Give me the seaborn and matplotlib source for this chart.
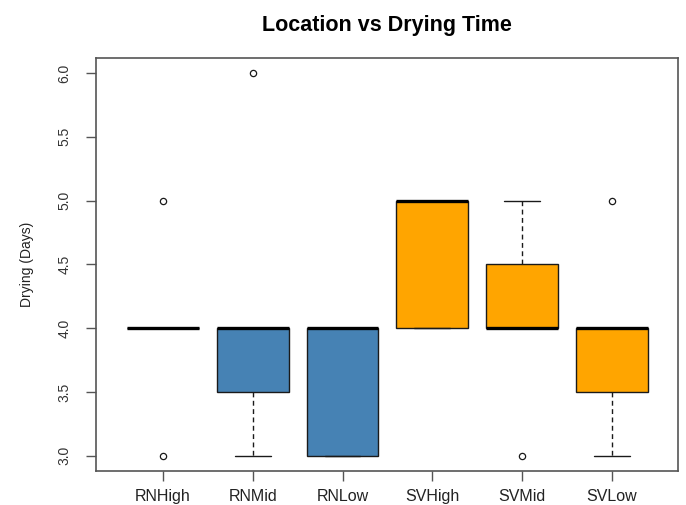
import matplotlib
matplotlib.use("Agg")
import matplotlib.pyplot as plt
import seaborn as sns
import pandas as pd

# ---- data (raw drying times, days) ----
locations = ["RNHigh", "RNMid", "RNLow", "SVHigh", "SVMid", "SVLow"]
rn_high = [3, 4, 4, 4, 4, 4, 5]
rn_mid = [3, 3, 4, 4, 4, 4, 6]
rn_low = [3, 3, 3, 4, 4, 4, 4]
sv_high = [4, 4, 4, 5, 5, 5, 5]
sv_mid = [3, 4, 4, 4, 4, 5, 5]
sv_low = [3, 3, 4, 4, 4, 4, 5]
box_colors = ["steelblue", "steelblue", "steelblue", "orange", "orange", "orange"]
y_ticks = [3.0, 3.5, 4.0, 4.5, 5.0, 5.5, 6.0]
y_tick_labels = ["3.0", "3.5", "4.0", "4.5", "5.0", "5.5", "6.0"]

series = [rn_high, rn_mid, rn_low, sv_high, sv_mid, sv_low]
rows = []
for loc, vals in zip(locations, series):
    for v in vals:
        rows.append({"Location": loc, "Days": v})
df = pd.DataFrame(rows)

sns.set_theme(style="white")
plt.rcParams["font.family"] = ["Liberation Sans", "DejaVu Sans"]

fig = plt.figure(figsize=(6.86, 5.05), dpi=100)
ax = fig.add_axes([0.1405, 0.0673, 0.989 - 0.1405, 0.8857 - 0.0673])

edge = "#1a1a1a"
sns.boxplot(
    data=df, x="Location", y="Days", hue="Location", order=locations,
    hue_order=locations, palette=dict(zip(locations, box_colors)),
    legend=False, width=0.8, whis=1.5, linecolor=edge, linewidth=1.0,
    saturation=1, ax=ax,
    medianprops=dict(color="black", linewidth=2.4, solid_capstyle="butt"),
    whiskerprops=dict(color=edge, linestyle=(0, (3.5, 2.5)), linewidth=1.0),
    capprops=dict(color=edge, linewidth=1.0),
    boxprops=dict(edgecolor=edge, linewidth=1.0),
    flierprops=dict(marker="o", markerfacecolor="none", markeredgecolor=edge,
                    markersize=4.5, markeredgewidth=0.9),
)

ax.set_xlim(-0.74, 5.74)
ax.set_ylim(2.88, 6.12)
ax.set_yticks(y_ticks)
ax.set_yticklabels(y_tick_labels)
ax.set_xlabel("")
ax.set_ylabel("Drying (Days)", fontsize=10, color="#222222")
ax.yaxis.set_label_coords(-0.108, 0.5)

for s in ax.spines.values():
    s.set_visible(True)
    s.set_color("#555555")
    s.set_linewidth(1.2)

ax.tick_params(axis="both", which="major", direction="out", length=7,
               width=1.0, color="#555555", left=True, bottom=True)
ax.tick_params(axis="y", labelsize=10, pad=11, labelcolor="#333333")
ax.tick_params(axis="x", labelsize=11.5, pad=6, labelcolor="#222222")
for lab in ax.get_yticklabels():
    lab.set_rotation(90)
    lab.set_va("center")
    lab.set_ha("right")

ax.set_title("Location vs Drying Time", fontsize=15.5, fontweight="bold",
             pad=19, color="black")
ax.grid(False)

fig.savefig("out.png", dpi=100)
